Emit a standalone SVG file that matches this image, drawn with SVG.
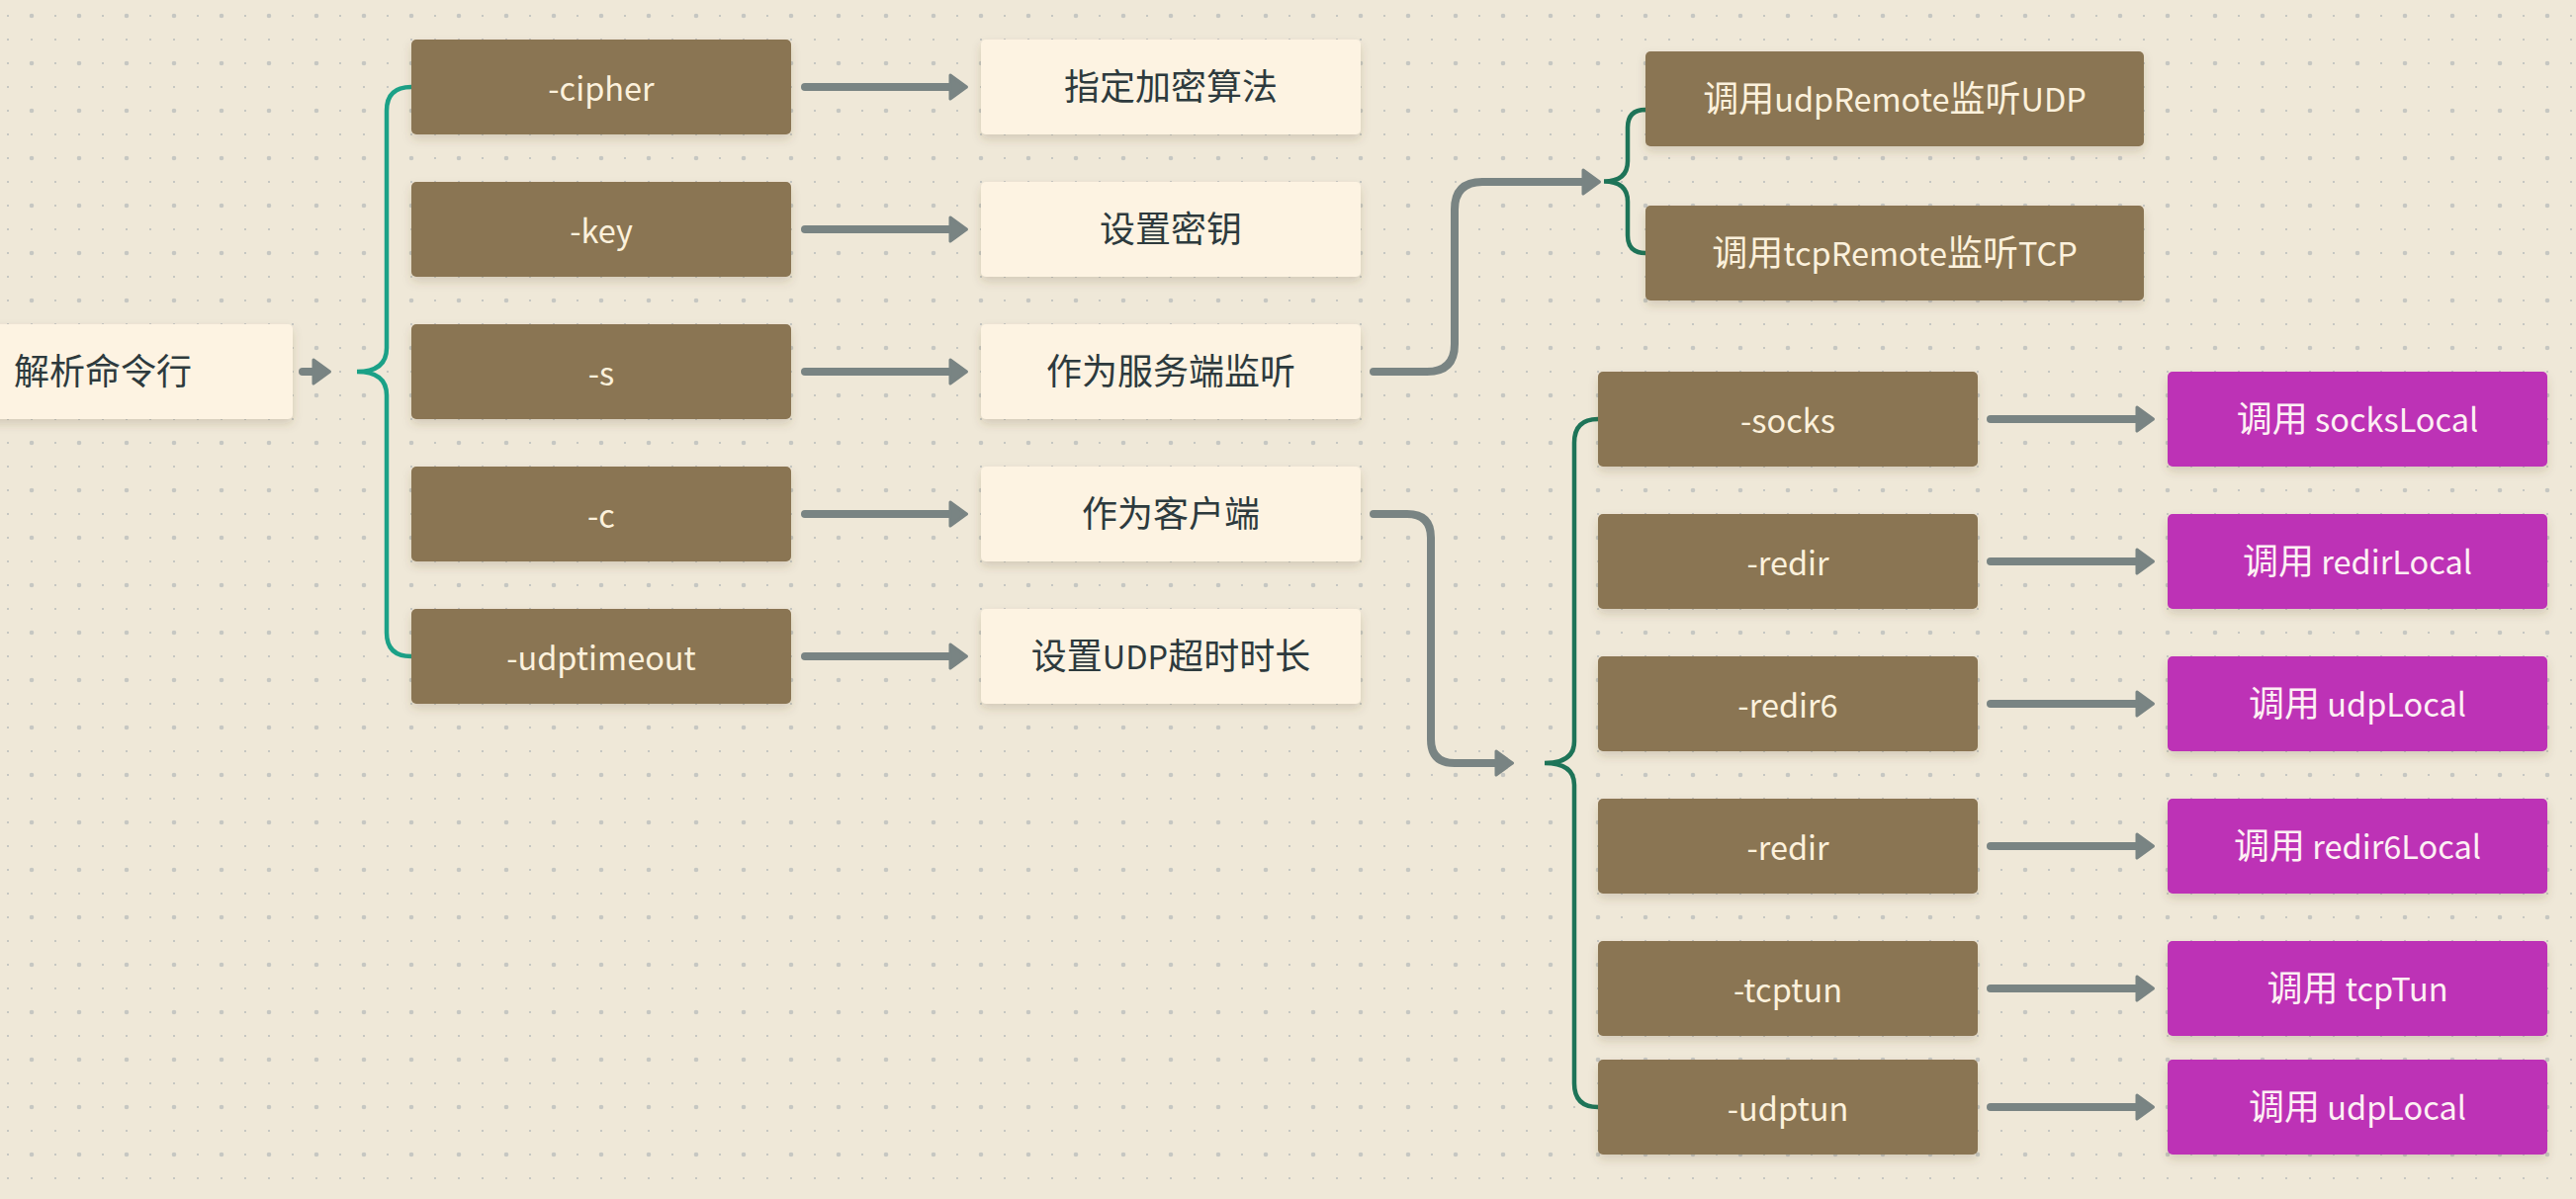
<svg xmlns="http://www.w3.org/2000/svg" width="2605" height="1213" viewBox="0 0 2605 1213">
<defs>
<pattern id="dots" patternUnits="userSpaceOnUse" width="48" height="48">
<rect x="7" y="15" width="2" height="2" fill="#c6c7c2"/>
<rect x="7" y="39" width="2" height="2" fill="#c6c7c2"/>
<rect x="31" y="39" width="2" height="2" fill="#c6c7c2"/>
<circle cx="32" cy="16" r="2.3" fill="#c6c7c2"/>
</pattern>
<filter id="sh" x="-10%" y="-20%" width="120%" height="160%">
<feDropShadow dx="0" dy="5" stdDeviation="5" flood-color="#5a4a30" flood-opacity="0.18"/>
</filter>
<marker id="ah" markerUnits="userSpaceOnUse" markerWidth="22" markerHeight="30" viewBox="0 0 22 30" refX="1.5" refY="15" orient="auto">
<path d="M2.5,3 L19,15 L2.5,27 Z" fill="#798483" stroke="#798483" stroke-width="3" stroke-linejoin="round"/>
</marker>
</defs>
<style>
.bg{fill:#efe8d8}
.brown{fill:#8a7452;filter:url(#sh)}
.cream{fill:#fdf3e2;filter:url(#sh)}
.purple{fill:#bd30b6;filter:url(#sh)}
text{font-family:"Noto Sans CJK SC","Noto Sans",sans-serif;font-size:36px;text-anchor:middle}
.l{font-size:32.5px}
.tb{fill:#fcf1dc}
.tc{fill:#2d3a3d}
.tp{fill:#fdf0f4}
.arr{fill:none;stroke:#798483;stroke-width:8;stroke-linecap:round;stroke-linejoin:round;marker-end:url(#ah)}
.br1{fill:none;stroke:#1ba187;stroke-width:4.5;stroke-linecap:round}
.br2{fill:none;stroke:#1e7458;stroke-width:4.5;stroke-linecap:round}
</style>
<rect class="bg" x="0" y="0" width="2605" height="1213"/>
<rect x="0" y="0" width="2605" height="1213" fill="url(#dots)"/>

<g id="connectors">
<path class="arr" d="M306,376 H316"/>
<path class="br1" d="M416,88 C399,88 391,96 391,112 V352 C391,368 381,376 361,376 C381,376 391,384 391,400 V640 C391,656 399,664 416,664"/>
<path class="arr" d="M814,88 H960"/>
<path class="arr" d="M814,232 H960"/>
<path class="arr" d="M814,376 H960"/>
<path class="arr" d="M814,520 H960"/>
<path class="arr" d="M814,664 H960"/>
<path class="arr" d="M1389,376 H1443 Q1471,376 1471,348 V212 Q1471,184 1499,184 H1600"/>
<path class="br2" d="M1664,111 C1652,111 1646,117 1646,129 V163 C1646,177 1638,183.5 1622,183.5 C1638,183.5 1646,190 1646,204 V238 C1646,250 1652,256 1664,256"/>
<path class="arr" d="M1389,520 H1423 Q1447,520 1447,544 V748 Q1447,772 1471,772 H1512"/>
<path class="br2" d="M1616,424 C1600,424 1592,432 1592,448 V750 C1592,765 1581,772 1562,772 C1581,772 1592,779 1592,794 V1096 C1592,1112 1600,1120 1616,1120"/>
<path class="arr" d="M2013,424 H2160"/>
<path class="arr" d="M2013,568 H2160"/>
<path class="arr" d="M2013,712 H2160"/>
<path class="arr" d="M2013,856 H2160"/>
<path class="arr" d="M2013,1000 H2160"/>
<path class="arr" d="M2013,1120 H2160"/>
</g>

<g id="root"><rect class="cream" x="-88" y="328" width="384" height="96" rx="5"/><text class="tc" x="104" y="389">解析命令行</text></g>

<g id="opt-cipher"><rect class="brown" x="416" y="40" width="384" height="96" rx="5"/><text class="tb l" x="608" y="102">-cipher</text></g>
<g id="opt-key"><rect class="brown" x="416" y="184" width="384" height="96" rx="5"/><text class="tb l" x="608" y="246">-key</text></g>
<g id="opt-s"><rect class="brown" x="416" y="328" width="384" height="96" rx="5"/><text class="tb l" x="608" y="390">-s</text></g>
<g id="opt-c"><rect class="brown" x="416" y="472" width="384" height="96" rx="5"/><text class="tb l" x="608" y="534">-c</text></g>
<g id="opt-udptimeout"><rect class="brown" x="416" y="616" width="384" height="96" rx="5"/><text class="tb l" x="608" y="678">-udptimeout</text></g>

<g id="desc-cipher"><rect class="cream" x="992" y="40" width="384" height="96" rx="5"/><text class="tc" x="1184" y="101">指定加密算法</text></g>
<g id="desc-key"><rect class="cream" x="992" y="184" width="384" height="96" rx="5"/><text class="tc" x="1184" y="245">设置密钥</text></g>
<g id="desc-s"><rect class="cream" x="992" y="328" width="384" height="96" rx="5"/><text class="tc" x="1184" y="389">作为服务端监听</text></g>
<g id="desc-c"><rect class="cream" x="992" y="472" width="384" height="96" rx="5"/><text class="tc" x="1184" y="533">作为客户端</text></g>
<g id="desc-udptimeout"><rect class="cream" x="992" y="616" width="384" height="96" rx="5"/><text class="tc" x="1184" y="677">设置<tspan class="l">UDP</tspan>超时时长</text></g>

<g id="udp-remote"><rect class="brown" x="1664" y="52" width="504" height="96" rx="5"/><text class="tb" x="1916" y="113">调用<tspan class="l">udpRemote</tspan>监听<tspan class="l">UDP</tspan></text></g>
<g id="tcp-remote"><rect class="brown" x="1664" y="208" width="504" height="96" rx="5"/><text class="tb" x="1916" y="269">调用<tspan class="l">tcpRemote</tspan>监听<tspan class="l">TCP</tspan></text></g>

<g id="opt-socks"><rect class="brown" x="1616" y="376" width="384" height="96" rx="5"/><text class="tb l" x="1808" y="438">-socks</text></g>
<g id="opt-redir"><rect class="brown" x="1616" y="520" width="384" height="96" rx="5"/><text class="tb l" x="1808" y="582">-redir</text></g>
<g id="opt-redir6"><rect class="brown" x="1616" y="664" width="384" height="96" rx="5"/><text class="tb l" x="1808" y="726">-redir6</text></g>
<g id="opt-redir-2"><rect class="brown" x="1616" y="808" width="384" height="96" rx="5"/><text class="tb l" x="1808" y="870">-redir</text></g>
<g id="opt-tcptun"><rect class="brown" x="1616" y="952" width="384" height="96" rx="5"/><text class="tb l" x="1808" y="1014">-tcptun</text></g>
<g id="opt-udptun"><rect class="brown" x="1616" y="1072" width="384" height="96" rx="5"/><text class="tb l" x="1808" y="1134">-udptun</text></g>

<g id="call-socks"><rect class="purple" x="2192" y="376" width="384" height="96" rx="5"/><text class="tp" x="2384" y="437">调用<tspan class="l"> socksLocal</tspan></text></g>
<g id="call-redir"><rect class="purple" x="2192" y="520" width="384" height="96" rx="5"/><text class="tp" x="2384" y="581">调用<tspan class="l"> redirLocal</tspan></text></g>
<g id="call-udp-1"><rect class="purple" x="2192" y="664" width="384" height="96" rx="5"/><text class="tp" x="2384" y="725">调用<tspan class="l"> udpLocal</tspan></text></g>
<g id="call-redir6"><rect class="purple" x="2192" y="808" width="384" height="96" rx="5"/><text class="tp" x="2384" y="869">调用<tspan class="l"> redir6Local</tspan></text></g>
<g id="call-tcptun"><rect class="purple" x="2192" y="952" width="384" height="96" rx="5"/><text class="tp" x="2384" y="1013">调用<tspan class="l"> tcpTun</tspan></text></g>
<g id="call-udp-2"><rect class="purple" x="2192" y="1072" width="384" height="96" rx="5"/><text class="tp" x="2384" y="1133">调用<tspan class="l"> udpLocal</tspan></text></g>
</svg>
